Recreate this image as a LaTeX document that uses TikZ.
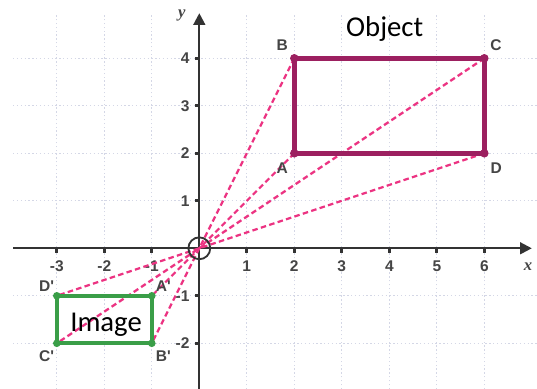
\documentclass[tikz,border=0pt]{standalone}
\usepackage{fontspec}
\setmainfont{Liberation Sans}
\newfontfamily\lblfont{Liberation Sans}
\newfontfamily\calib{Carlito}
\newfontfamily\serifit{Liberation Serif}
\usetikzlibrary{arrows.meta}
\definecolor{objc}{HTML}{9C2060}
\definecolor{imgc}{HTML}{3A9E48}
\definecolor{pinkc}{HTML}{EC3382}
\definecolor{gridc}{HTML}{D4D7E6}
\definecolor{axc}{HTML}{333333}
\definecolor{lblc}{HTML}{454545}
\begin{document}
\begin{tikzpicture}[x=1cm,y=1cm,
  gridline/.style={gridc, line width=0.8pt, dash pattern=on 0.8pt off 1.5pt},
  axisline/.style={axc, line width=1.3pt, -{Triangle[length=7pt,width=7pt]}},
  tickmark/.style={axc, line width=2pt},
  ticklbl/.style={text=lblc, font=\lblfont\fontsize{9.3}{11}\selectfont\bfseries, inner sep=0pt},
  ptlbl/.style={text=lblc, font=\lblfont\fontsize{9.3}{11}\selectfont\bfseries, inner sep=0pt},
  axlbl/.style={text=lblc, font=\serifit\fontsize{10}{12}\selectfont\bfseries\itshape, inner sep=0pt},
  bigtxt/.style={text=black, font=\calib\fontsize{17.2}{20}\selectfont, inner sep=0pt, anchor=base},
  rayline/.style={pinkc, line width=1.35pt, dash pattern=on 3.3pt off 2pt},
  objline/.style={objc, line width=2.8pt, line join=round},
  imgline/.style={imgc, line width=2.5pt, line join=round}
]
\useasboundingbox (-4.196,-2.962) rectangle (7.109,5.227);
\fill[white] (-4.196,-2.962) rectangle (7.109,5.227);
% grid
\foreach \x in {-3,-2,-1,1,2,3,4,5,6} \draw[gridline] (\x,-2.962) -- (\x,4.95);
\foreach \y in {-2,-1,1,2,3,4} \draw[gridline] (-3.92,\y) -- (7.109,\y);
% points
\coordinate (O) at (0,0);
\coordinate (A) at (2,2);
\coordinate (B) at (2,4);
\coordinate (C) at (6,4);
\coordinate (D) at (6,2);
\coordinate (A2) at (-1,-1);
\coordinate (B2) at (-1,-2);
\coordinate (C2) at (-3,-2);
\coordinate (D2) at (-3,-1);
\coordinate (xs) at (-3.92,0);
\coordinate (xe) at (7.0,0);
\coordinate (ys) at (0,-2.962);
\coordinate (ye) at (0,4.95);
% axes
\draw[axisline] (xs) -- (xe);
\draw[axisline] (ys) -- (ye);
\foreach \x in {-3,-2,-1,1,2,3,4,5,6} {
  \draw[tickmark] (\x,0) -- (\x,-0.09);
  \node[ticklbl] (xl\x) at (\x,-0.37) {\x};
}
\foreach \y in {-2,-1,1,2,3,4} {
  \draw[tickmark] (0,\y) -- (-0.09,\y);
  \node[ticklbl, anchor=east] (yl\y) at (-0.2,\y) {\y};
}
\node[axlbl] (xlab) at (6.92,-0.39) {x};
\node[axlbl] (ylab) at (-0.366,4.91) {y};
% rays
\foreach \p/\q in {A/A2,B/B2,C/C2,D/D2} \draw[rayline] (\p) -- (O) -- (\q);
% origin circle
\node[circle, draw=axc, line width=1.1pt, minimum size=0.46cm, inner sep=0pt] (circ) at (O) {};
% object
\draw[objline] (A) -- (B) -- (C) -- (D) -- cycle;
\foreach \p in {A,B,C,D} \fill[objc] (\p) circle (0.09);
% image
\draw[imgline] (A2) -- (B2) -- (C2) -- (D2) -- cycle;
\foreach \p in {A2,B2,C2,D2} \fill[imgc] (\p) circle (0.08);
% labels
\node[ptlbl] (lA) at (1.747,1.684) {A};
\node[ptlbl] (lB) at (1.747,4.28) {B};
\node[ptlbl] (lC) at (6.247,4.28) {C};
\node[ptlbl] (lD) at (6.25,1.68) {D};
\node[ptlbl] (lA2) at (-0.758,-0.794) {A'};
\node[ptlbl] (lB2) at (-0.758,-2.28) {B'};
\node[ptlbl] (lC2) at (-3.213,-2.28) {C'};
\node[ptlbl] (lD2) at (-3.213,-0.794) {D'};
\node[bigtxt] (obj) at (3.903,4.469) {Object};
\node[bigtxt] (img) at (-1.964,-1.762) {Image};
\end{tikzpicture}
\end{document}
